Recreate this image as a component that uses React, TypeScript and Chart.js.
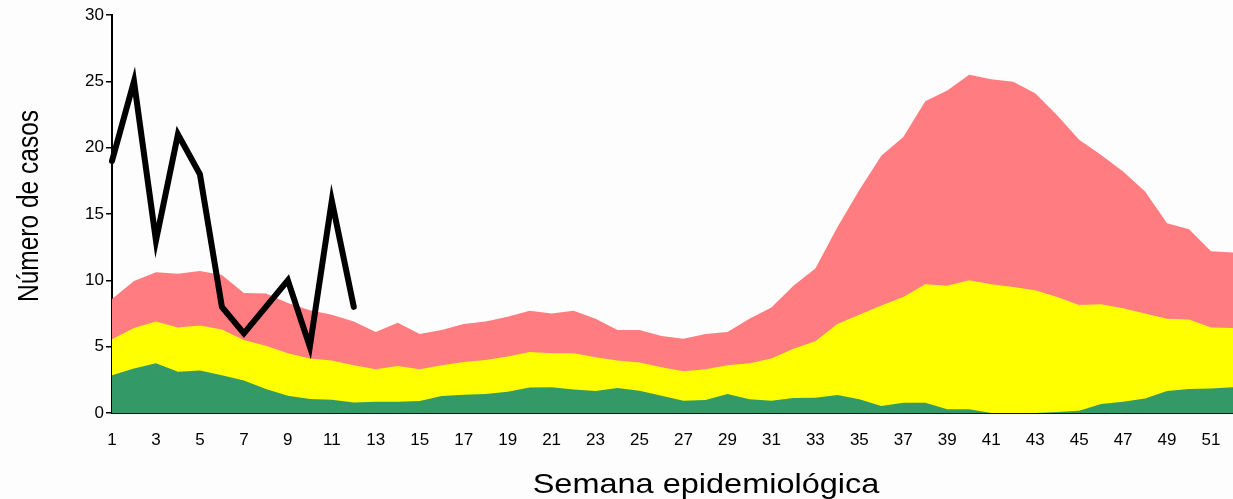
import React, { useEffect, useRef } from "react";
import { Chart, registerables } from "chart.js";

Chart.register(...registerables);

const weeks = [
  "1", "2", "3", "4", "5", "6", "7", "8", "9", "10",
  "11", "12", "13", "14", "15", "16", "17", "18", "19", "20",
  "21", "22", "23", "24", "25", "26", "27", "28", "29", "30",
  "31", "32", "33", "34", "35", "36", "37", "38", "39", "40",
  "41", "42", "43", "44", "45", "46", "47", "48", "49", "50",
  "51", "52",
];

const epidemicZone = [
  8.6, 9.95, 10.6, 10.5, 10.7, 10.4, 9.05, 9.0, 8.3, 7.75,
  7.4, 6.9, 6.1, 6.8, 5.95, 6.25, 6.7, 6.9, 7.25, 7.7,
  7.5, 7.7, 7.1, 6.25, 6.25, 5.8, 5.6, 5.95, 6.1, 7.1,
  7.95, 9.6, 10.9, 14.0, 16.8, 19.4, 20.8, 23.5, 24.3, 25.5,
  25.15, 24.97, 24.1, 22.45, 20.6, 19.45, 18.2, 16.7, 14.3, 13.85,
  12.2, 12.1,
];

const alertZone = [
  5.55, 6.4, 6.9, 6.45, 6.6, 6.3, 5.5, 5.07, 4.5, 4.1,
  3.95, 3.6, 3.3, 3.55, 3.3, 3.6, 3.85, 4.0, 4.25, 4.6,
  4.5, 4.5, 4.2, 3.95, 3.8, 3.45, 3.15, 3.3, 3.6, 3.75,
  4.1, 4.85, 5.4, 6.7, 7.4, 8.1, 8.75, 9.7, 9.6, 10.0,
  9.7, 9.5, 9.25, 8.75, 8.15, 8.2, 7.9, 7.5, 7.1, 7.05,
  6.45, 6.4,
];

const safetyZone = [
  2.85, 3.35, 3.75, 3.1, 3.2, 2.85, 2.45, 1.8, 1.3, 1.05,
  1.0, 0.8, 0.85, 0.85, 0.9, 1.28, 1.38, 1.43, 1.6, 1.93,
  1.95, 1.78, 1.65, 1.88, 1.68, 1.3, 0.93, 0.98, 1.43, 1.03,
  0.93, 1.13, 1.15, 1.35, 1.03, 0.53, 0.78, 0.78, 0.28, 0.28,
  0, 0, 0, 0.08, 0.17, 0.68, 0.85, 1.1, 1.65, 1.8,
  1.85, 1.95,
];

const cases = [19, 25, 13, 21, 18, 8, 6, 8, 10, 5, 16, 8];

const yTicks = [0, 5, 10, 15, 20, 25, 30];

const xTitle = "Semana epidemiológica";
const yTitle = "Número de casos";

const FONT = "'Liberation Sans', Arial, sans-serif";

const titlePlugin = {
  id: "axisTitles",
  afterDraw(chart: any) {
    const ctx = chart.ctx;
    ctx.save();
    ctx.fillStyle = "#000";
    ctx.font = `28px ${FONT}`;
    ctx.textAlign = "center";
    ctx.textBaseline = "alphabetic";
    ctx.save();
    ctx.translate(706, 493);
    ctx.scale(1.16, 1);
    ctx.fillText(xTitle, 0, 0);
    ctx.restore();
    ctx.font = `29px ${FONT}`;
    ctx.save();
    ctx.translate(38, 206);
    ctx.rotate(-Math.PI / 2);
    ctx.scale(0.845, 1);
    ctx.fillText(yTitle, 0, 0);
    ctx.restore();
    ctx.restore();
  },
};

export default function App() {
  const ref = useRef<HTMLCanvasElement | null>(null);

  useEffect(() => {
    if (!ref.current) return;
    const areaBase = {
      pointRadius: 0,
      borderWidth: 0,
      tension: 0,
      fill: "origin",
    };
    const chart = new Chart(ref.current, {
      type: "line",
      data: {
        labels: weeks,
        datasets: [
          {
            label: "Casos",
            data: [...cases, ...weeks.slice(cases.length).map(() => null)],
            borderColor: "#000000",
            backgroundColor: "#000000",
            borderWidth: 6,
            pointRadius: 0,
            tension: 0,
            fill: false,
            borderJoinStyle: "miter",
            borderCapStyle: "round",
          },
          {
            ...areaBase,
            label: "Éxito",
            data: safetyZone,
            backgroundColor: "#339966",
            borderColor: "#339966",
          },
          {
            ...areaBase,
            label: "Seguridad",
            data: alertZone,
            backgroundColor: "#FFFF00",
            borderColor: "#FFFF00",
          },
          {
            ...areaBase,
            label: "Alarma",
            data: epidemicZone,
            backgroundColor: "#FF7C80",
            borderColor: "#FF7C80",
          },
        ] as any,
      },
      options: {
        responsive: false,
        animation: false,
        devicePixelRatio: 1,
        layout: { padding: { left: 0, right: 6, top: 15, bottom: 0 } },
        plugins: {
          legend: { display: false },
          tooltip: { enabled: false },
        },
        scales: {
          x: {
            type: "category",
            offset: false,
            z: 1,
            grid: { display: false, drawTicks: false },
            border: { display: true, color: "#111", width: 2 },
            ticks: {
              autoSkip: false,
              maxRotation: 0,
              minRotation: 0,
              padding: 17,
              color: "#000",
              font: { family: FONT, size: 17 },
              callback: (_v: any, i: number) => (i % 2 === 0 ? weeks[i] : ""),
            },
            afterFit: (s: any) => {
              s.height = 86;
            },
          },
          y: {
            min: 0,
            max: 30,
            z: 1,
            grid: {
              drawOnChartArea: false,
              drawTicks: true,
              tickLength: 6,
              color: "#000",
              lineWidth: 1.5,
            },
            border: { display: true, color: "#000", width: 2 },
            afterBuildTicks: (s: any) => {
              s.ticks = yTicks.map((v) => ({ value: v }));
            },
            ticks: {
              padding: 2,
              color: "#000",
              font: { family: FONT, size: 17 },
            },
            afterFit: (s: any) => {
              s.width = 112;
            },
          },
        },
      },
      plugins: [titlePlugin],
    });
    return () => chart.destroy();
  }, []);

  return (
    <div
      style={{
        position: "absolute",
        left: 0,
        top: 0,
        width: 1233,
        height: 499,
        overflow: "hidden",
        background: "#fdfdfd",
      }}
    >
      <canvas
        ref={ref}
        width={1250}
        height={499}
        style={{ width: 1250, height: 499, display: "block" }}
      />
    </div>
  );
}
